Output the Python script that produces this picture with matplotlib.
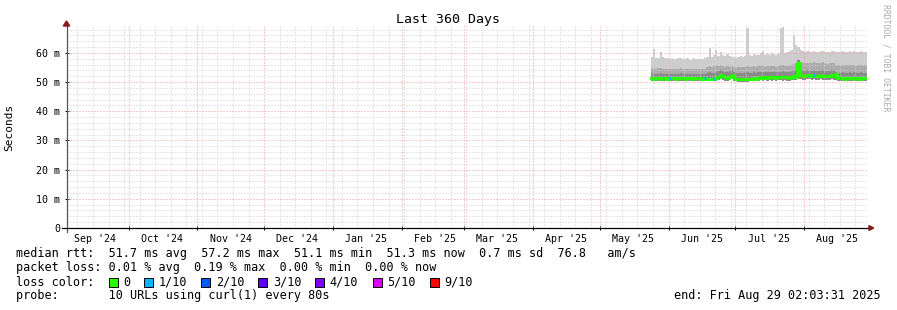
import datetime as dt
import matplotlib
matplotlib.use("Agg")
import matplotlib.pyplot as plt
from matplotlib.patches import Rectangle, Polygon

# time range of the graph
t_start = dt.datetime(2024, 9, 3, 2, 3, 31)
t_end = dt.datetime(2025, 8, 29, 2, 3, 31)
first_day = dt.datetime(2025, 5, 24)

# daily values, ms (data begins May 24 2025)
median = [51.3, 51.2, 51.3, 51.3, 51.2, 51.3, 51.3, 51.2, 51.3, 51.3,
          51.3, 51.2, 51.3, 51.3, 51.3, 51.2, 51.3, 51.3, 51.2, 51.3,
          51.3, 51.3, 51.2, 51.2, 51.3, 51.1, 51.0, 51.2, 51.1, 51.3,
          51.8, 52.3, 52.0, 51.6, 51.4, 51.9, 52.4, 51.7,
          51.2, 50.9, 51.0, 51.0, 50.9, 51.0, 51.1, 51.2, 51.3, 51.2,
          51.5, 51.6, 51.5, 51.6, 51.5, 51.7, 51.6, 51.6, 51.5, 51.6,
          51.7, 51.6, 51.7, 51.6, 51.5, 51.7, 52.0, 51.8,
          56.5, 52.5, 52.2, 52.2,
          52.3, 52.3, 52.2, 52.3, 52.2, 52.2, 52.3, 52.2, 52.1, 52.2, 52.2, 52.3, 52.2,
          52.8, 51.4, 51.3, 51.3, 51.2, 51.3, 51.3, 51.3, 51.2, 51.3, 51.3, 51.2, 51.3, 51.3]

light_top = [58.6, 61.2, 58.4, 58.2, 60.4, 58.5, 58.3, 58.1, 57.9, 58.2,
             58.0, 57.8, 58.1, 58.3, 57.9, 58.0, 58.2, 57.7, 57.9, 58.1,
             58.0, 57.8, 58.0, 57.9, 58.2, 58.5, 61.5, 58.6, 59.1, 61.0,
             59.0, 60.4, 59.3, 58.8, 59.5, 59.0, 58.7, 58.5,
             58.3, 58.6, 58.8, 58.5, 59.0, 68.4, 59.2, 58.9, 59.6, 59.3,
             59.4, 59.8, 60.6, 59.2, 59.5, 59.4, 59.8, 59.6, 59.2, 59.7,
             68.5, 68.7, 59.8, 60.2, 60.5, 61.0, 66.0, 62.8,
             62.0, 61.0, 60.6, 60.4,
             60.5, 60.3, 60.4, 60.6, 60.3, 60.4, 60.5, 60.7, 60.4, 60.2, 60.3, 60.5, 60.6,
             60.4, 60.3, 60.2, 60.5, 60.4, 60.3, 60.6, 60.4, 60.5, 60.2, 60.3, 60.5, 60.3, 60.2]

mid_top = [54.8, 54.6, 54.5, 54.7, 54.9, 54.6, 54.4, 54.5, 54.3, 54.6,
           54.5, 54.4, 54.6, 54.7, 54.3, 54.5, 54.6, 54.4, 54.3, 54.5,
           54.6, 54.4, 54.5, 54.3, 54.6, 55.0, 55.6, 55.2, 55.4, 55.8,
           55.5, 55.7, 55.6, 55.2, 55.6, 55.3, 55.5, 55.1,
           54.9, 55.1, 55.2, 55.0, 55.1, 55.6, 55.3, 55.2, 55.4, 55.3,
           55.4, 55.5, 55.7, 55.3, 55.4, 55.5, 55.6, 55.4, 55.3, 55.6,
           55.8, 55.9, 55.5, 55.6, 55.7, 55.8, 56.2, 56.4,
           57.0, 56.8, 56.6, 56.5,
           56.6, 56.4, 56.5, 56.7, 56.4, 56.5, 56.6, 56.7, 56.5, 56.3, 56.4, 56.6, 56.5,
           55.9, 55.8, 55.7, 55.9, 55.8, 55.7, 55.9, 55.8, 55.9, 55.6, 55.7, 55.9, 55.8, 55.7]

dark_top = [53.0, 52.9, 52.8, 52.9, 53.1, 52.9, 52.8, 52.9, 52.7, 52.9,
            52.8, 52.7, 52.9, 53.0, 52.7, 52.8, 52.9, 52.8, 52.7, 52.8,
            52.9, 52.8, 52.8, 52.7, 52.9, 53.0, 53.3, 53.1, 53.2, 53.6,
            53.7, 54.0, 53.8, 53.4, 53.6, 53.8, 54.0, 53.5,
            53.0, 53.1, 53.2, 53.0, 53.1, 53.4, 53.2, 53.1, 53.3, 53.2,
            53.4, 53.5, 53.5, 53.3, 53.4, 53.6, 53.5, 53.4, 53.3, 53.5,
            53.6, 53.7, 53.5, 53.6, 53.5, 53.7, 54.0, 54.2,
            57.5, 54.3, 54.0, 53.9,
            54.0, 53.9, 53.8, 54.0, 53.9, 53.8, 54.0, 54.1, 53.9, 53.8, 53.9, 54.0, 54.0,
            53.4, 53.2, 53.1, 53.3, 53.2, 53.1, 53.3, 53.2, 53.3, 53.0, 53.1, 53.3, 53.2, 53.1]

low = [50.4, 50.5, 50.4, 50.4, 50.3, 50.4, 50.5, 50.4, 50.4, 50.4,
       50.4, 50.3, 50.4, 50.5, 50.4, 50.4, 50.3, 50.4, 50.4, 50.4,
       50.4, 50.4, 50.3, 50.4, 50.4, 50.3, 50.2, 50.4, 50.3, 50.4,
       50.6, 50.9, 50.8, 50.5, 50.4, 50.7, 50.9, 50.5,
       50.2, 50.0, 50.1, 50.1, 50.0, 50.1, 50.2, 50.3, 50.4, 50.3,
       50.5, 50.6, 50.5, 50.6, 50.5, 50.6, 50.5, 50.6, 50.5, 50.6,
       50.6, 50.5, 50.6, 50.5, 50.4, 50.6, 50.8, 50.7,
       51.2, 50.9, 50.8, 50.8,
       50.9, 50.9, 50.8, 50.9, 50.8, 50.8, 50.9, 50.8, 50.7, 50.8, 50.8, 50.9, 50.8,
       50.6, 50.4, 50.3, 50.3, 50.2, 50.3, 50.3, 50.3, 50.2, 50.3, 50.3, 50.2, 50.3, 50.3]

# packet loss per day, in tenths
loss = [0] * 97
for i in (8, 24, 28, 73):
    loss[i] = 1

loss_labels = ["0", "1/10", "2/10", "3/10", "4/10", "5/10", "9/10"]
loss_colors = ["#26ff00", "#00b8ff", "#0059ff", "#5e00ff", "#7e00ff", "#dd00ff", "#ff0000"]

days = [first_day + dt.timedelta(days=i) for i in range(len(median))]
x = days + [t_end]


def ext(v):
    return v + [v[-1]]


W, H = 897, 310
fig = plt.figure(figsize=(W / 100, H / 100), dpi=100)
ax = fig.add_axes([66.5 / W, 1 - 228 / H, 800 / W, (228 - 26) / H])
mono = "DejaVu Sans Mono"

# smoke
ax.fill_between(x, ext(low), ext(light_top), step="post", color="#cdcdcd", lw=0, zorder=2)
ax.fill_between(x, ext(low), ext(mid_top), step="post", color="#ababab", lw=0, zorder=2)
ax.fill_between(x, ext(low), ext(dark_top), step="post", color="#8a8a8a", lw=0, zorder=2)

# grid (rrdtool draws it over the smoke)
months = [dt.datetime(2024, m, 1) for m in range(10, 13)] + \
         [dt.datetime(2025, m, 1) for m in range(1, 9)]
week = dt.datetime(2024, 9, 8)
while week < t_end:
    if week.day != 1:
        ax.axvline(week, color="#cfcfcf", lw=0.72, ls=(0, (1, 2)), zorder=3)
    week += dt.timedelta(days=7)
for v in range(2, 70, 2):
    if v % 10:
        ax.axhline(v, color="#cfcfcf", lw=0.72, ls=(0, (1, 2)), zorder=3)
for m in months:
    ax.axvline(m, color="#f29a9a", lw=0.72, ls=(0, (1, 2)), zorder=3)
for v in range(10, 70, 10):
    ax.axhline(v, color="#f29a9a", lw=0.72, ls=(0, (1, 2)), zorder=3)

# median, coloured by loss
ax.step(x, ext(median), where="post", color=loss_colors[0], lw=2.2, zorder=4)
for i, l in enumerate(loss):
    if l:
        ax.hlines(median[i], days[i], days[i] + dt.timedelta(days=1),
                  color=loss_colors[l], lw=2.2, zorder=5)

ax.set_xlim(t_start, t_end)
ax.set_ylim(0, 69.2)
for s in ax.spines.values():
    s.set_visible(False)

# axes lines with arrows
ax.plot([0, 0], [-0.02, 1.0], transform=ax.transAxes, color="#555555", lw=0.9, clip_on=False, zorder=6)
ax.plot([-0.006, 1.003], [0, 0], transform=ax.transAxes, color="black", lw=0.9, clip_on=False, zorder=6)
ax.add_patch(Polygon([[-0.004, 1.0], [0.004, 1.0], [0, 1.025]], closed=True,
                     transform=ax.transAxes, color="#8b1a1a", clip_on=False, zorder=7))
ax.add_patch(Polygon([[1.003, -0.012], [1.003, 0.012], [1.009, 0]], closed=True,
                     transform=ax.transAxes, color="#8b1a1a", clip_on=False, zorder=7))

ax.set_yticks(range(0, 70, 10))
ax.set_yticklabels(["0"] + ["%d m" % v for v in range(10, 70, 10)], family=mono, fontsize=7.2)
ax.tick_params(axis="y", length=3, width=0.7, direction="inout", pad=3, colors="black")

ax.set_xticks(months)
ax.set_xticklabels([])
mid_month = [dt.datetime(2024, m, 16) for m in range(9, 13)] + \
            [dt.datetime(2025, m, 16) for m in range(1, 9)]
ax.set_xticks(mid_month, minor=True)
ax.set_xticklabels([d.strftime("%b '%y") for d in mid_month], minor=True,
                   family=mono, fontsize=7.2)
ax.tick_params(axis="x", which="major", length=3, width=0.7, direction="inout")
ax.tick_params(axis="x", which="minor", length=0, pad=4)

ax.set_ylabel("Seconds", family=mono, fontsize=8)
ax.yaxis.set_label_coords(-52 / 800, 0.5)

fig.text(448 / W, 1 - 19 / H, "Last 360 Days", family=mono, fontsize=9.5,
         ha="center", va="center")
fig.text(886 / W, 1 - 4 / H, "RRDTOOL / TOBI OETIKER", family=mono, fontsize=5.9,
         rotation=270, ha="center", va="top", color="#aaaaaa")

# legend text
fs = 8.5
cw = 7.13
rows = [254, 268, 282, 296]
fig.text(16 / W, 1 - rows[0] / H,
         "median rtt:  51.7 ms avg  57.2 ms max  51.1 ms min  51.3 ms now  0.7 ms sd  76.8   am/s",
         family=mono, fontsize=fs, va="center")
fig.text(16 / W, 1 - rows[1] / H,
         "packet loss: 0.01 % avg  0.19 % max  0.00 % min  0.00 % now",
         family=mono, fontsize=fs, va="center")
fig.text(16 / W, 1 - rows[2] / H, "loss color:", family=mono, fontsize=fs, va="center")
col = 13
for lab, c in zip(loss_labels, loss_colors):
    bx = 16 + col * cw
    fig.patches.append(Rectangle((bx / W, 1 - (rows[2] + 4.5) / H), 9 / W, 9 / H,
                                 transform=fig.transFigure, facecolor=c,
                                 edgecolor="black", lw=0.7))
    fig.text((16 + (col + 2) * cw) / W, 1 - rows[2] / H, lab, family=mono,
             fontsize=fs, va="center")
    col += 2 + len(lab) + 2
fig.text(16 / W, 1 - rows[3] / H, "probe:       10 URLs using curl(1) every 80s",
         family=mono, fontsize=fs, va="center")
fig.text(881 / W, 1 - rows[3] / H, "end: Fri Aug 29 02:03:31 2025",
         family=mono, fontsize=fs, va="center", ha="right")

fig.savefig("out.png", dpi=100)
